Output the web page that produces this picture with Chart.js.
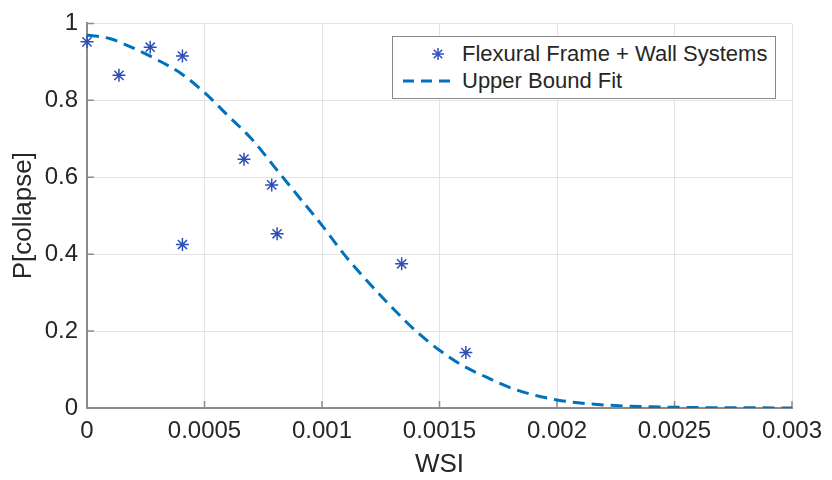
<!DOCTYPE html>
<html lang="en">

<head>
  <meta charset="UTF-8">
  <title>P[collapse] vs WSI</title>
  <script src="https://cdn.jsdelivr.net/npm/chart.js"></script>
  <style>
    body { margin: 0; background: #fff; }
    #wrap { position: relative; width: 832px; height: 480px; }
    #legend {
      position: absolute; left: 392px; top: 36px; width: 382px; height: 61px;
      border: 1px solid #8a8a8a; background: #fff;
      font-family: "Liberation Sans", Arial, sans-serif; font-size: 22px; color: #262626;
    }
    .row { position: absolute; left: 0; height: 26px; line-height: 26px; }
    .row svg { position: absolute; left: 8px; top: 0; }
    .row span { position: absolute; left: 69px; white-space: nowrap; }
  </style>
</head>

<body>
  <div id="wrap">
    <canvas id="chart" width="832" height="480"></canvas>
    <div id="legend">
      <div class="row" style="top:4px">
        <svg width="60" height="26"><g stroke="#2d4fb8" stroke-width="1.5">
          <line x1="37" y1="7" x2="37" y2="19"/><line x1="31" y1="13" x2="43" y2="13"/>
          <line x1="32.8" y1="8.8" x2="41.2" y2="17.2"/><line x1="32.8" y1="17.2" x2="41.2" y2="8.8"/></g></svg>
        <span>Flexural Frame + Wall Systems</span>
      </div>
      <div class="row" style="top:31px">
        <svg width="60" height="26"><line x1="2" y1="13" x2="56" y2="13" stroke="#0072bd" stroke-width="3" stroke-dasharray="11,7"/></svg>
        <span>Upper Bound Fit</span>
      </div>
    </div>
  </div>

  <script>
    // measured data points
    const wsi = [0, 0.000136, 0.000269, 0.000406, 0.000406, 0.000668, 0.000786, 0.000809, 0.001339, 0.001612];
    const pCollapse = [0.952, 0.865, 0.938, 0.915, 0.425, 0.647, 0.580, 0.453, 0.375, 0.144];

    // upper bound fit
    const fitWsi = [0, 0.0001, 0.0002, 0.0003, 0.0004, 0.0005, 0.0006, 0.0007, 0.0008, 0.0009, 0.001,
      0.0011, 0.0012, 0.0013, 0.0014, 0.0015, 0.0016, 0.0017, 0.0018, 0.0019, 0.002,
      0.0021, 0.0022, 0.0023, 0.0024, 0.0025, 0.0026, 0.0028, 0.003];
    const fitP = [0.97, 0.96, 0.935, 0.905, 0.87, 0.82, 0.76, 0.70, 0.625, 0.55, 0.475,
      0.395, 0.325, 0.26, 0.20, 0.15, 0.11, 0.08, 0.053, 0.034, 0.021,
      0.013, 0.008, 0.005, 0.003, 0.002, 0.001, 0.0005, 0.0002];

    const xTicks = [0, 0.0005, 0.001, 0.0015, 0.002, 0.0025, 0.003];
    const xTickLabels = ['0', '0.0005', '0.001', '0.0015', '0.002', '0.0025', '0.003'];
    const yTicks = [0, 0.2, 0.4, 0.6, 0.8, 1];
    const yTickLabels = ['0', '0.2', '0.4', '0.6', '0.8', '1'];

    const axisGrey = '#8c8c8c';
    const textCol = '#262626';
    const font = "'Liberation Sans', Arial, sans-serif";

    // MATLAB style ticks pointing into the plot
    const innerTicks = {
      id: 'innerTicks',
      beforeDatasetsDraw(chart) {
        const { ctx, chartArea: a, scales: { x, y } } = chart;
        ctx.save();
        ctx.strokeStyle = axisGrey;
        ctx.lineWidth = 1.5;
        ctx.beginPath();
        xTicks.forEach(v => {
          const px = x.getPixelForValue(v);
          ctx.moveTo(px, a.bottom); ctx.lineTo(px, a.bottom - 7);
        });
        yTicks.forEach(v => {
          const py = y.getPixelForValue(v);
          ctx.moveTo(a.left, py); ctx.lineTo(a.left + 7, py);
        });
        ctx.stroke();
        ctx.restore();
      }
    };

    new Chart(document.getElementById('chart'), {
      type: 'scatter',
      data: {
        datasets: [{
          label: 'Flexural Frame + Wall Systems',
          data: wsi.map((v, i) => ({ x: v, y: pCollapse[i] })),
          pointStyle: 'star',
          pointRadius: 6.5,
          borderColor: '#2d4fb8',
          backgroundColor: '#2d4fb8',
          borderWidth: 1.5,
          clip: false
        }, {
          label: 'Upper Bound Fit',
          type: 'line',
          data: fitWsi.map((v, i) => ({ x: v, y: fitP[i] })),
          borderColor: '#0072bd',
          borderWidth: 3,
          borderDash: [12, 7],
          pointRadius: 0,
          cubicInterpolationMode: 'monotone',
          fill: false
        }]
      },
      options: {
        responsive: false,
        animation: false,
        layout: { padding: { left: 0, right: 40, top: 17, bottom: 0 } },
        plugins: { legend: { display: false }, tooltip: { enabled: false } },
        scales: {
          x: {
            type: 'linear', min: 0, max: 0.003,
            afterBuildTicks: s => { s.ticks = xTicks.map(v => ({ value: v })); },
            afterFit: s => { s.height = 72; },
            grid: { color: '#e3e3e3', drawTicks: false },
            border: { color: axisGrey, width: 2 },
            ticks: {
              padding: 9, color: textCol, font: { family: font, size: 24 },
              maxRotation: 0, autoSkip: false,
              callback: (v, i) => xTickLabels[i]
            },
            title: { display: true, text: 'WSI', color: textCol, font: { family: font, size: 26 }, padding: { top: 0, bottom: 0 } }
          },
          y: {
            type: 'linear', min: 0, max: 1,
            afterBuildTicks: s => { s.ticks = yTicks.map(v => ({ value: v })); },
            afterFit: s => { s.width = 87; },
            grid: { color: '#e3e3e3', drawTicks: false },
            border: { color: axisGrey, width: 2 },
            ticks: {
              padding: 9, color: textCol, font: { family: font, size: 24 },
              autoSkip: false,
              callback: (v, i) => yTickLabels[i]
            },
            title: { display: true, text: 'P[collapse]', color: textCol, font: { family: font, size: 26 }, padding: { top: 8, bottom: 0 } }
          }
        }
      },
      plugins: [innerTicks]
    });
  </script>
</body>

</html>
